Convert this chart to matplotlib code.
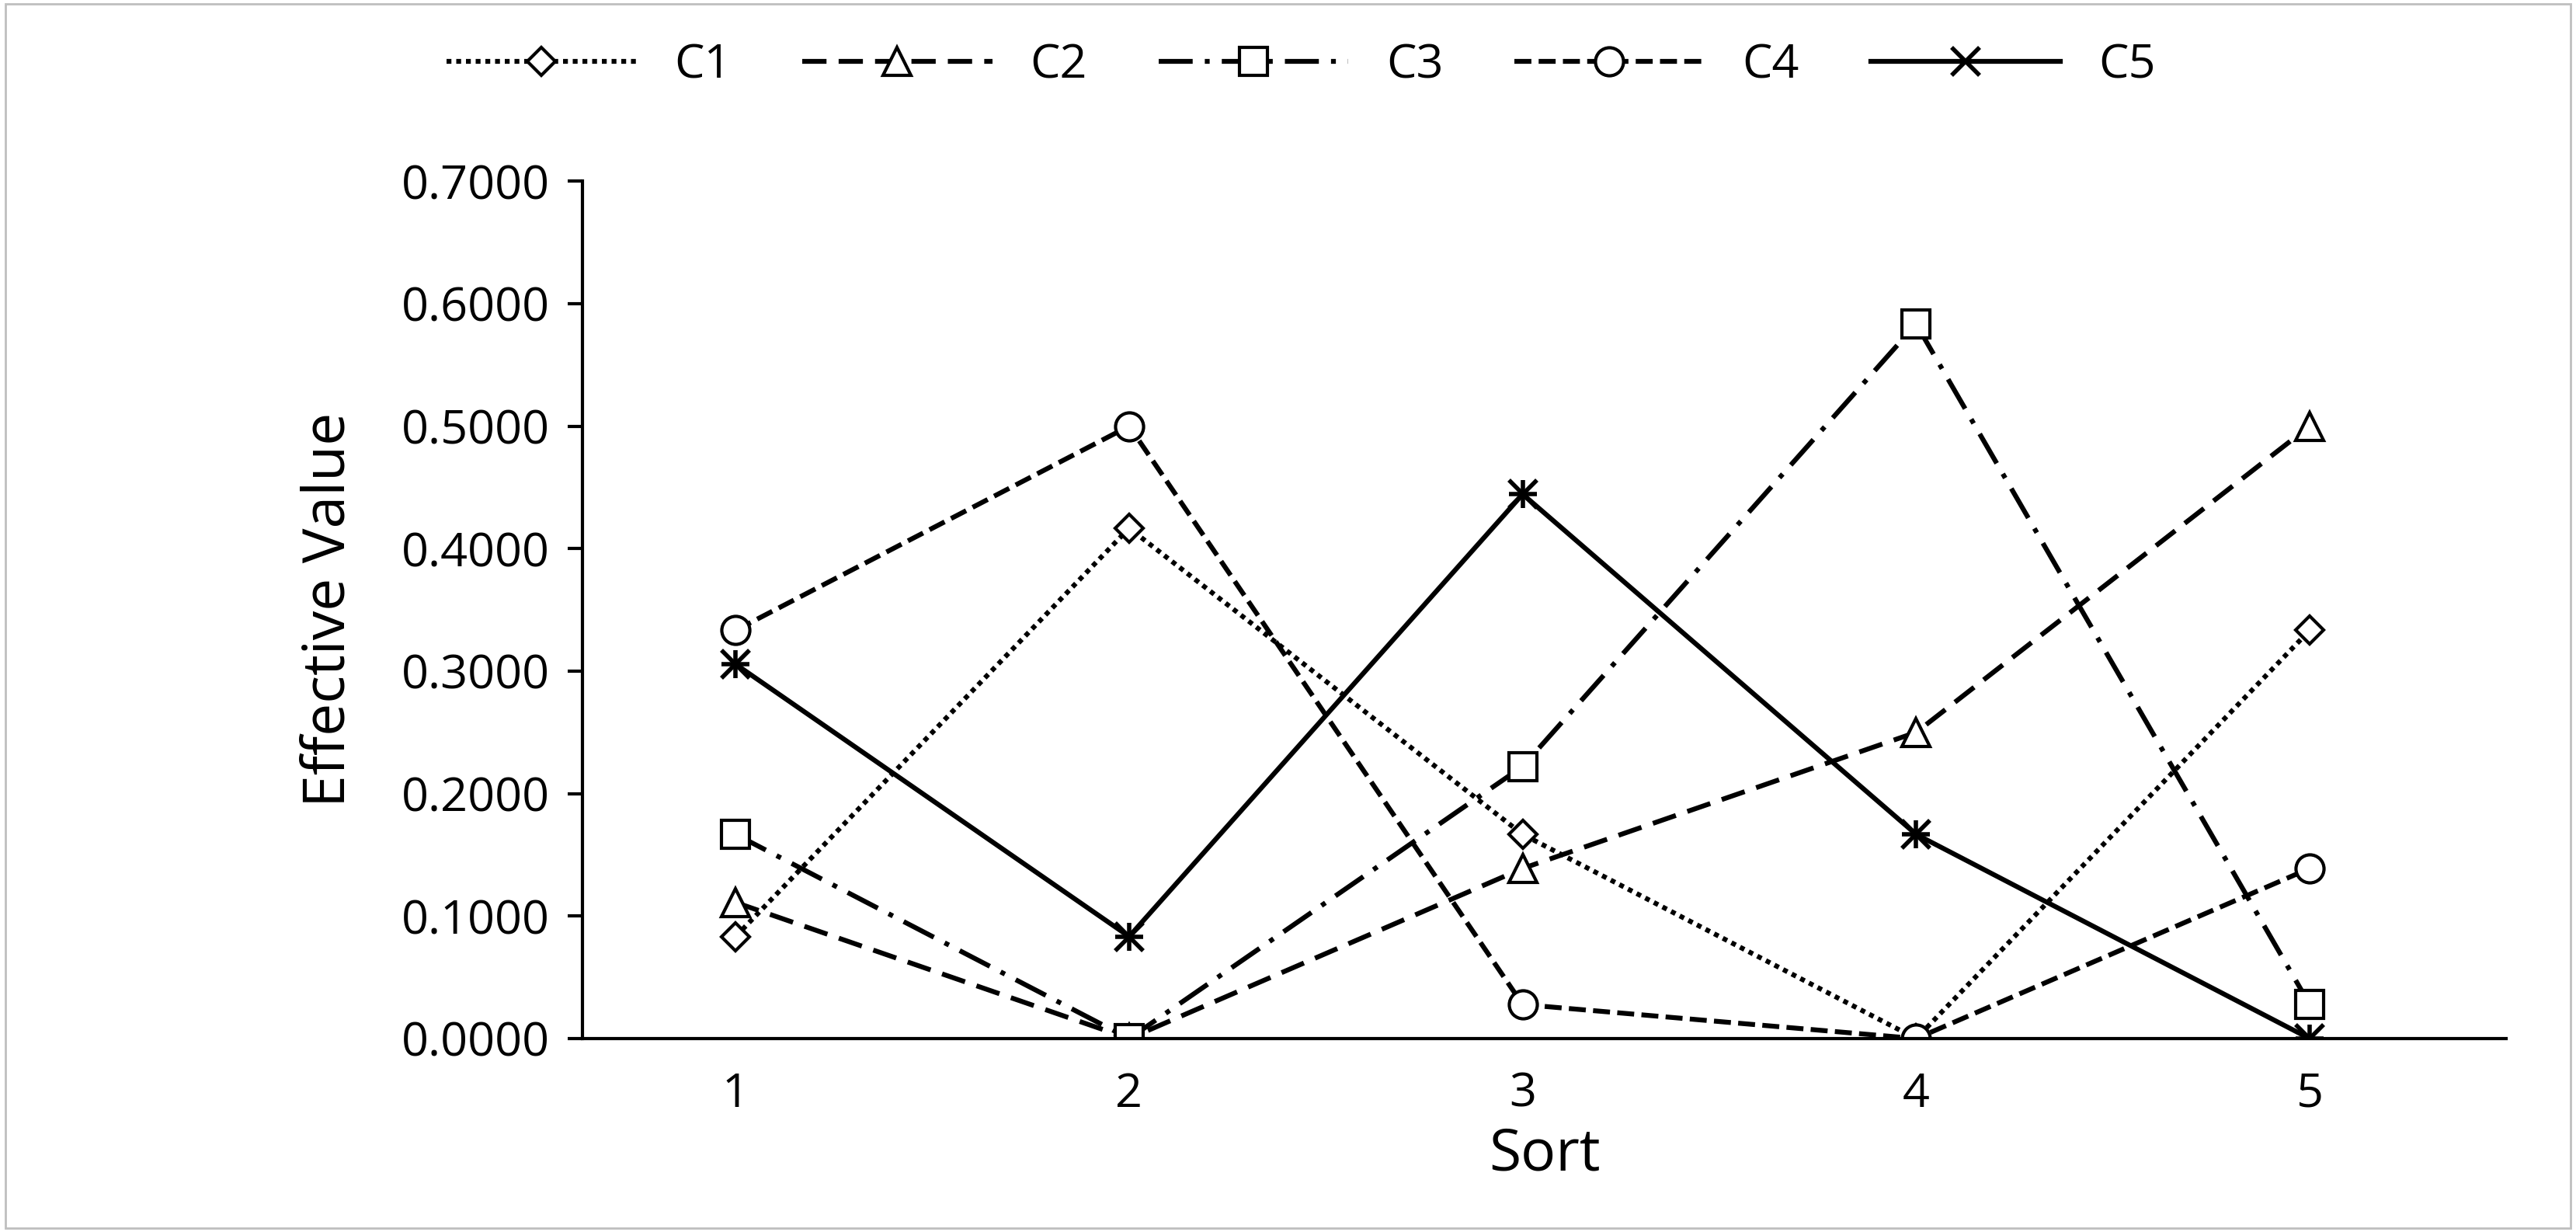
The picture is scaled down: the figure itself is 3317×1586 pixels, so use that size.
import matplotlib
matplotlib.use("Agg")
import matplotlib.pyplot as plt
from matplotlib.patches import Rectangle

plt.rcParams['font.family'] = ['Open Sans', 'DejaVu Sans']

sorts = [1, 2, 3, 4, 5]
c1 = [0.0833, 0.4167, 0.1667, 0.0, 0.3333]
c2 = [0.1111, 0.0, 0.1389, 0.25, 0.5]
c3 = [0.1667, 0.0, 0.2222, 0.5833, 0.0278]
c4 = [0.3333, 0.5, 0.0278, 0.0, 0.1389]
c5 = [0.3056, 0.0833, 0.4444, 0.1667, 0.0]
yticks = [0.0, 0.1, 0.2, 0.3, 0.4, 0.5, 0.6, 0.7]

fig = plt.figure(figsize=(33.17, 15.86), dpi=100)
ax = fig.add_axes([0.226, 0.157, 0.747, 0.696])
lw = 4.5
ms = 26
mew = 3
common = dict(color='black', lw=lw, ms=ms, mew=mew, mfc='white', mec='black')
ax.plot(sorts, c1, linestyle=(0, (1, 1)), marker='D', label='C1', **{**common, 'ms': 18})
ax.plot(sorts, c2, linestyle=(0, (5, 2.5)), marker='^', label='C2', **common)
ax.plot(sorts, c3, linestyle=(0, (7, 2.5, 1, 2.5)), marker='s', label='C3', **common)
ax.plot(sorts, c4, linestyle=(0, (3.5, 1.5)), marker='o', label='C4', **common)
ax.plot(sorts, c5, linestyle='-', marker='x', label='C5', **{**common, 'mew': 4})
ax.plot(sorts, c5, linestyle='none', marker='+', color='black', ms=ms, mew=4)

ax.set_xlim(0.61, 5.5)
ax.set_ylim(0, 0.7)
ax.set_xticks(sorts)
ax.set_yticks(yticks)
ax.set_yticklabels([f"{v:.4f}" for v in yticks])
for s in ['top', 'right']:
    ax.spines[s].set_visible(False)
for s in ['left', 'bottom']:
    ax.spines[s].set_linewidth(3)
ax.tick_params(axis='y', length=14, width=3, labelsize=44, pad=16)
ax.tick_params(axis='x', length=0, labelsize=44, pad=30)
ax.set_xlabel('Sort', fontsize=54, labelpad=8)
ax.set_ylabel('Effective Value', fontsize=54, labelpad=40)

fig.legend(loc='center', bbox_to_anchor=(0.505, 0.947), ncol=5, frameon=False,
           fontsize=44, handlelength=4, columnspacing=1.5)
fig.patches.append(Rectangle((0.002, 0.003), 0.996, 0.994, transform=fig.transFigure,
                             fill=False, edgecolor='#bfbfbf', lw=2))
fig.savefig('out.png', dpi=100)
